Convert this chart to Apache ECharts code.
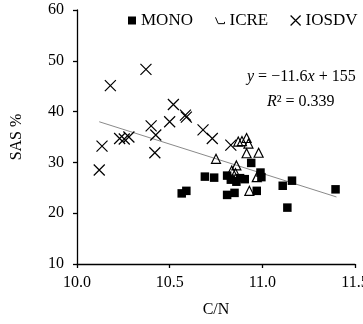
<!DOCTYPE html>
<html>
<head>
<meta charset="utf-8">
<script src="https://cdn.jsdelivr.net/npm/echarts@6/dist/echarts.min.js"></script>
<style>
  html, body { margin: 0; padding: 0; background: #fff; }
  #chart { width: 363px; height: 324px; }
</style>
</head>
<body>
<div id="chart"></div>
<script>
// C/N vs SAS %, three treatments
const monoPoints = [
  [10.565, 23.9], [10.59, 24.4], [10.69, 27.2], [10.74, 27.0], [10.81, 27.4],
  [10.83, 26.6], [10.86, 26.2], [10.88, 26.9], [10.905, 26.7], [10.81, 23.6],
  [10.85, 24.0], [10.94, 29.9], [10.97, 24.4], [10.99, 28.0], [10.995, 27.1],
  [11.11, 25.4], [11.16, 26.4], [11.135, 21.1], [11.395, 24.7]
];
const icrePoints = [
  [10.87, 34.1], [10.89, 34.2], [10.915, 34.8], [10.925, 33.7], [10.915, 31.8],
  [10.98, 31.9], [10.75, 30.7], [10.86, 29.4], [10.835, 28.4], [10.855, 27.9],
  [10.97, 27.1], [10.93, 24.4]
];
const iosdvPoints = [
  [10.12, 28.5], [10.135, 33.2], [10.18, 45.1], [10.23, 34.7], [10.255, 34.6],
  [10.28, 35.0], [10.372, 48.3], [10.40, 37.2], [10.425, 35.4], [10.42, 31.9],
  [10.50, 38.0], [10.52, 41.4], [10.585, 39.3], [10.59, 38.9], [10.68, 36.4],
  [10.73, 34.7], [10.83, 33.4]
];
// fitted line ends
const trendLine = [[10.12, 38.0], [11.40, 23.2]];

const seriesNames = ['MONO', 'ICRE', 'IOSDV'];
const xTicks = [10.0, 10.5, 11.0, 11.5];

const FONT = 'Liberation Serif';
const crossPath = 'path://M0,0L10,10M10,0L0,10';
const icreIcon = 'path://M0,2L3,9L10,9L10,7';

const chart = echarts.init(document.getElementById('chart'));

const legendBase = {
  orient: 'horizontal',
  top: 7,
  itemGap: 0,
  textStyle: { fontFamily: FONT, fontSize: 17, color: '#000' },
  selectedMode: false
};

const option = {
  animation: false,
  backgroundColor: '#fff',
  grid: { left: 77, right: 8, top: 10, bottom: 60, outerBoundsMode: 'none', containLabel: false },
  legend: [
    Object.assign({}, legendBase, {
      left: 123, itemWidth: 8, itemHeight: 8, itemGap: 0,
      data: [{ name: 'MONO', icon: 'rect', itemStyle: { color: '#000' } }]
    }),
    Object.assign({}, legendBase, {
      left: 210, itemWidth: 9, itemHeight: 8,
      data: [{ name: 'ICRE', icon: icreIcon,
        itemStyle: { color: 'rgba(0,0,0,0)', borderColor: '#000', borderWidth: 1 } }]
    }),
    Object.assign({}, legendBase, {
      left: 285, itemWidth: 10, itemHeight: 10,
      data: [{ name: 'IOSDV', icon: crossPath,
        itemStyle: { color: 'rgba(0,0,0,0)', borderColor: '#000', borderWidth: 1.2 } }]
    })
  ],
  xAxis: {
    type: 'value',
    min: 10, max: 11.5, interval: 0.5,
    name: 'C/N',
    nameLocation: 'middle',
    nameGap: 38,
    nameTextStyle: { fontFamily: FONT, fontSize: 16, color: '#000' },
    splitLine: { show: false },
    axisLine: { show: true, lineStyle: { color: '#000', width: 1.3 } },
    axisTick: { show: true, inside: false, length: 4, lineStyle: { color: '#000', width: 1.3 } },
    axisLabel: {
      fontFamily: FONT, fontSize: 16, color: '#000', margin: 11,
      formatter: v => xTicks.includes(v) ? v.toFixed(1) : ''
    }
  },
  yAxis: {
    type: 'value',
    min: 10, max: 60, interval: 10,
    name: 'SAS %',
    nameLocation: 'middle',
    nameRotate: 90,
    nameGap: 52,
    nameTextStyle: { fontFamily: FONT, fontSize: 16, color: '#000' },
    splitLine: { show: false },
    axisLine: { show: true, lineStyle: { color: '#000', width: 1.3 } },
    axisTick: { show: true, inside: false, length: 4, lineStyle: { color: '#000', width: 1.3 } },
    axisLabel: { fontFamily: FONT, fontSize: 16, color: '#000', margin: 13 }
  },
  graphic: [
    {
      type: 'text', left: 247, top: 69,
      style: {
        text: '{i|y} = −11.6{i|x} + 155',
        fontFamily: FONT, fontSize: 16, fill: '#000',
        rich: { i: { fontFamily: FONT, fontSize: 16, fontStyle: 'italic' } }
      }
    },
    {
      type: 'text', left: 267, top: 94,
      style: {
        text: '{i|R}² = 0.339',
        fontFamily: FONT, fontSize: 16, fill: '#000',
        rich: { i: { fontFamily: FONT, fontSize: 16, fontStyle: 'italic' } }
      }
    }
  ],
  series: [
    {
      name: 'trend', type: 'line', data: trendLine,
      showSymbol: false, silent: true, z: 1,
      lineStyle: { color: '#8a8a8a', width: 1 }
    },
    {
      name: seriesNames[0], type: 'scatter', data: monoPoints, z: 3,
      symbol: 'rect', symbolSize: 8.5,
      itemStyle: { color: '#000', opacity: 1 }
    },
    {
      name: seriesNames[1], type: 'scatter', data: icrePoints, z: 3,
      symbol: 'triangle', symbolSize: 9,
      itemStyle: { color: 'rgba(0,0,0,0)', borderColor: '#000', borderWidth: 1.2, opacity: 1 }
    },
    {
      name: seriesNames[2], type: 'scatter', data: iosdvPoints, z: 3,
      symbol: crossPath, symbolSize: 11,
      itemStyle: { color: 'rgba(0,0,0,0)', borderColor: '#000', borderWidth: 1.2, opacity: 1 }
    }
  ]
};

chart.setOption(option);
</script>
</body>
</html>
